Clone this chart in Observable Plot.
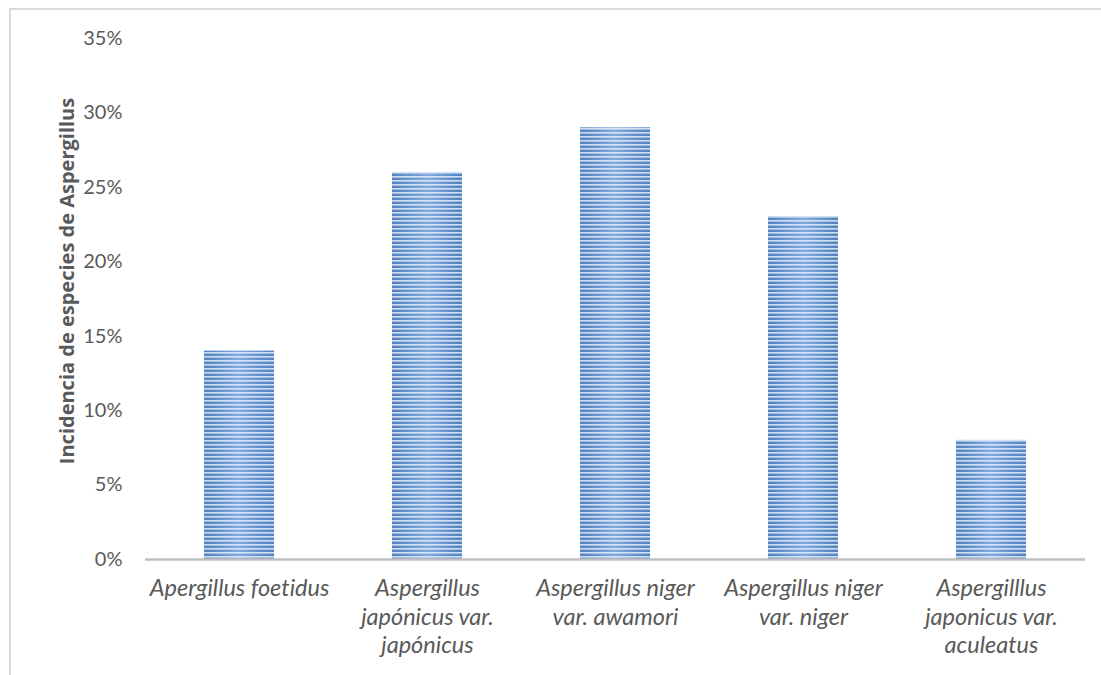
<!DOCTYPE html>
<html><head><meta charset="utf-8">
<script src="https://cdn.jsdelivr.net/npm/d3@7"></script>
<script src="https://cdn.jsdelivr.net/npm/@observablehq/plot@0.6"></script>
<style>
body{margin:0;background:#fff;}
#wrap{position:relative;width:1101px;height:675px;overflow:hidden;background:#fff;}
#frame{position:absolute;left:9px;top:8px;width:1200px;height:800px;border:2px solid #d9d9d9;box-sizing:border-box;}
#chart svg{position:absolute;left:0;top:0;}
#chart svg text{font-variant-ligatures:none;font-feature-settings:"liga" 0;}
</style></head>
<body><div id="wrap"><div id="frame"></div><div id="chart"></div></div>
<script>
const categories = [
  "Apergillus foetidus",
  "Aspergillus japónicus var. japónicus",
  "Aspergillus niger var. awamori",
  "Aspergillus niger var. niger",
  "Aspergilllus japonicus var. aculeatus"
];
const tickLabels = [
  "Apergillus foetidus",
  "Aspergillus\njapónicus var.\njapónicus",
  "Aspergillus niger\nvar. awamori",
  "Aspergillus niger\nvar. niger",
  "Aspergilllus\njaponicus var.\naculeatus"
];
const incidence = [0.14, 0.26, 0.29, 0.23, 0.08];
const yTicks = [0, 0.05, 0.10, 0.15, 0.20, 0.25, 0.30, 0.35];
const yLabel = "Incidencia de especies de Aspergillus";

const data = categories.map((c, i) => ({cat: c, v: incidence[i]}));

const svg = Plot.plot({
  width: 1101,
  height: 675,
  marginLeft: 145,
  marginRight: 16,
  marginTop: 38,
  marginBottom: 116,
  style: {fontFamily: "Lato, 'Open Sans', sans-serif", color: "#595959", background: "transparent"},
  x: {type: "band", domain: categories, paddingInner: 0.627, paddingOuter: 0.3135},
  y: {domain: [0, 0.35]},
  marks: [
    Plot.barY(data, {x: "cat", y: "v", fill: "url(#barGrad)"}),
    Plot.barY(data, {x: "cat", y: "v", fill: "url(#barStripes)"}),
    Plot.ruleY([0], {stroke: "#bfbfbf", strokeWidth: 2.5}),
    Plot.axisY({
      ticks: yTicks,
      tickFormat: d3.format(".0%"),
      tickSize: 0,
      tickPadding: 23,
      fontSize: 20,
      label: yLabel,
      labelAnchor: "center",
      labelArrow: "none",
      labelOffset: 86
    }),
    Plot.axisX({
      tickSize: 0,
      tickPadding: 16,
      fontSize: 23.5,
      fontFamily: "Lato, sans-serif",
      fontStyle: "italic",
      lineHeight: 1.22,
      label: null,
      tickFormat: d => tickLabels[categories.indexOf(d)]
    })
  ]
});

const s = d3.select(svg);
const defs = s.insert("defs", ":first-child");
const g = defs.append("linearGradient").attr("id", "barGrad")
  .attr("x1", "0").attr("x2", "1").attr("y1", "0").attr("y2", "0");
g.append("stop").attr("offset", "0").attr("stop-color", "#4f81c1");
g.append("stop").attr("offset", "0.5").attr("stop-color", "#82a9de");
g.append("stop").attr("offset", "1").attr("stop-color", "#4f81c1");
const p = defs.append("pattern").attr("id", "barStripes")
  .attr("patternUnits", "userSpaceOnUse").attr("width", 10).attr("height", 4);
p.append("rect").attr("x", 0).attr("y", 0).attr("width", 10).attr("height", 1.6)
  .attr("fill", "#eef4fc").attr("fill-opacity", 0.8);

s.selectAll("[aria-label='y-axis label']")
  .attr("font-weight", "bold").attr("font-size", 20).attr("font-family", "'Open Sans', sans-serif");
s.selectAll("[aria-label='y-axis label'] text").attr("dx", 18);

document.getElementById("chart").appendChild(svg);
</script>
</body></html>
